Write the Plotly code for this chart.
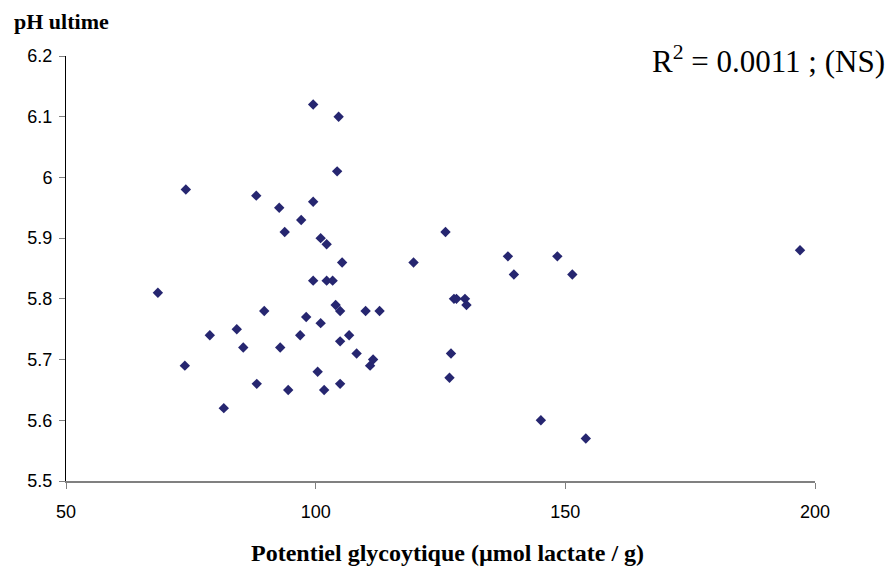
import plotly.graph_objects as go

# Data
glyco_potential = [68.4, 74.0, 73.8, 78.8, 81.6, 84.2, 85.5, 88.1, 88.2, 89.7,
                   92.7, 92.9, 93.8, 94.5, 96.9, 97.1, 98.1, 99.5, 99.5, 99.5,
                   100.4, 101.0, 101.0, 101.7, 102.2, 102.2, 103.4, 104.0, 104.3, 104.6,
                   104.9, 104.9, 104.9, 105.3, 106.7, 108.2, 110.0, 110.9, 111.5, 112.8,
                   119.6, 126.0, 126.8, 127.1, 127.7, 128.2, 129.9, 130.2, 138.5, 139.7,
                   145.1, 148.4, 151.4, 154.1, 197.0]
ph_ultimate = [5.81, 5.98, 5.69, 5.74, 5.62, 5.75, 5.72, 5.97, 5.66, 5.78,
               5.95, 5.72, 5.91, 5.65, 5.74, 5.93, 5.77, 6.12, 5.96, 5.83,
               5.68, 5.90, 5.76, 5.65, 5.89, 5.83, 5.83, 5.79, 6.01, 6.10,
               5.78, 5.73, 5.66, 5.86, 5.74, 5.71, 5.78, 5.69, 5.70, 5.78,
               5.86, 5.91, 5.67, 5.71, 5.80, 5.80, 5.80, 5.79, 5.87, 5.84,
               5.60, 5.87, 5.84, 5.57, 5.88]

x_tick_vals = [50, 100, 150, 200]
x_tick_text = ["50", "100", "150", "200"]
y_tick_vals = [5.5, 5.6, 5.7, 5.8, 5.9, 6.0, 6.1, 6.2]
y_tick_text = ["5.5", "5.6", "5.7", "5.8", "5.9", "6", "6.1", "6.2"]

y_title = "pH ultime"
x_title = "Potentiel glycoytique (µmol lactate / g)"
r2_text = "R<sup>2</sup> = 0.0011 ; (NS)"

# The page body has an 8px margin, so the figure starts at (8, 8) of the window.
OFF = 8
W, H = 893 - OFF, 570 - OFF
L, R, T, B = 66 - OFF, 78, 56 - OFF, 89
pw, ph = W - L - R, H - T - B


def px_to_paper(px, py):
    # px, py in window pixels
    return (px - OFF - L) / pw, 1 - (py - OFF - T) / ph


fig = go.Figure()
fig.add_trace(go.Scatter(
    x=glyco_potential, y=ph_ultimate, mode="markers",
    marker=dict(symbol="diamond", size=8, color="#262670",
                line=dict(width=0)),
    showlegend=False, hoverinfo="x+y"))

axis_font = dict(family="Liberation Sans, Arial, sans-serif", size=18, color="#000000")

fig.update_xaxes(range=[50, 200], tickvals=x_tick_vals, ticktext=x_tick_text,
                 showgrid=False, zeroline=False, showline=True, linecolor="#808080",
                 linewidth=1.5, ticks="outside", ticklen=6, tickcolor="#808080",
                 tickfont=axis_font, ticklabelstandoff=8)
fig.update_yaxes(range=[5.5, 6.2], tickvals=y_tick_vals, ticktext=y_tick_text,
                 showgrid=False, zeroline=False, showline=True, linecolor="#000000",
                 linewidth=1, ticks="outside", ticklen=6, tickcolor="#808080",
                 tickfont=axis_font, ticklabelstandoff=3)

ax, ay = px_to_paper(12, 22)
bx, by = px_to_paper(447, 553)
cx, cy = px_to_paper(887, 60)
fig.update_layout(
    width=W, height=H,
    margin=dict(l=L, r=R, t=T, b=B),
    paper_bgcolor="white", plot_bgcolor="white",
    annotations=[
        dict(text=y_title, xref="paper", yref="paper", x=ax, y=ay,
             xanchor="left", yanchor="middle", showarrow=False,
             font=dict(family="Liberation Serif, Times New Roman, serif", size=22,
                       color="#000000", weight="bold")),
        dict(text=x_title, xref="paper", yref="paper", x=bx, y=by,
             xanchor="center", yanchor="middle", showarrow=False,
             font=dict(family="Liberation Serif, Times New Roman, serif", size=24,
                       color="#000000", weight="bold")),
        dict(text=r2_text, xref="paper", yref="paper", x=cx, y=cy,
             xanchor="right", yanchor="middle", showarrow=False,
             font=dict(family="Liberation Serif, Times New Roman, serif", size=31,
                       color="#000000")),
    ],
)

fig.write_html("out.html")
